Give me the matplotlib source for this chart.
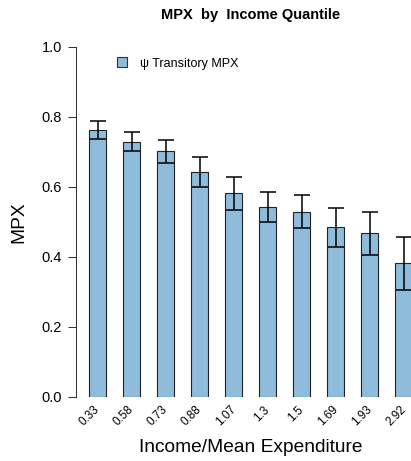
import numpy as np
import matplotlib
matplotlib.use("Agg")
import matplotlib.pyplot as plt
from matplotlib.patches import Patch

plt.rcParams["font.family"] = ["Liberation Sans", "DejaVu Sans"]

# MPX out of transitory income shocks, by income quantile
income_ratio = ["0.33", "0.58", "0.73", "0.88", "1.07", "1.3", "1.5", "1.69", "1.93", "2.92"]
mpx = [0.762, 0.729, 0.701, 0.641, 0.581, 0.542, 0.529, 0.484, 0.467, 0.381]
mpx_se = [0.027, 0.028, 0.033, 0.043, 0.047, 0.044, 0.048, 0.055, 0.061, 0.076]

bar_color = "#8fbcdb"
W, H = 411, 461

fig = plt.figure(figsize=(W / 100, H / 100), dpi=100)
ax = fig.add_axes([76 / W, 64.3 / H, 335 / W, 350 / H])

x = np.arange(len(mpx))
ax.bar(x, mpx, width=0.5, color=bar_color, edgecolor="#222222", linewidth=0.8, zorder=2)
ax.errorbar(x, mpx, yerr=mpx_se, fmt="none", ecolor="black",
            elinewidth=1.1, capsize=6, capthick=1.1, zorder=3)

ax.set_xlim(-0.647, 9.206)
ax.set_ylim(0, 1.0)
yticks = np.arange(0, 1.01, 0.2)
ax.set_yticks(yticks)
ax.set_yticklabels([f"{v:.1f}" for v in yticks], fontsize=10.5)
ax.tick_params(axis="y", direction="out", length=5.5, width=0.75, pad=4.5, color="#333333")

ax.set_xticks(x)
ax.set_xticklabels(income_ratio, fontsize=8.5, rotation=45,
                   ha="right", va="center", rotation_mode="anchor")
ax.tick_params(axis="x", length=0, pad=8)

for side in ["top", "right", "bottom"]:
    ax.spines[side].set_visible(False)
ax.spines["left"].set_linewidth(0.75)
ax.spines["left"].set_color("#333333")

fig.text(251 / W, 1 - 19.3 / H, "MPX  by  Income Quantile",
         ha="center", va="baseline", fontsize=10.5, fontweight="bold")
fig.text(19 / W, (64.3 + 175) / H, "MPX", rotation=90,
         ha="center", va="center", fontsize=13.8)
fig.text(251 / W, 1 - 447 / H, "Income/Mean Expenditure",
         ha="center", va="center", fontsize=13.8)

handles = [Patch(facecolor=bar_color, edgecolor="#333333", linewidth=0.8)]
fig.legend(handles, ["\u03c8 Transitory MPX"], loc="upper left",
           bbox_to_anchor=(117 / W, 1 - 57.5 / H), frameon=False, borderpad=0,
           borderaxespad=0, handlelength=0.8, handleheight=0.8,
           handletextpad=1.0, fontsize=9)

fig.savefig("out.png", dpi=100)
